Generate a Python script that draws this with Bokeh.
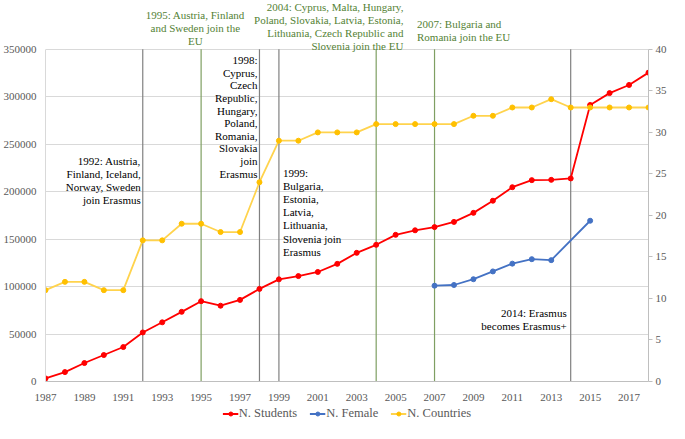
from bokeh.plotting import figure
from bokeh.layouts import column
from bokeh.models import (Range1d, LinearAxis, FixedTicker, Label, Legend,
                          LegendItem, BasicTickFormatter)
from bokeh.embed import file_html
from bokeh.resources import INLINE

years = list(range(1987, 2019))
students = [3244, 9914, 19456, 27906, 36314, 51694, 62362, 73407, 84642, 79874,
            85999, 97601, 107666, 111092, 115432, 123957, 135586, 144037, 154553,
            159324, 162695, 168193, 177705, 190495, 204744, 212208, 212522, 214000,
            291400, 303900, 312500, 325500]
female_years = [2007, 2008, 2009, 2010, 2011, 2012, 2013, 2015]
female = [101000, 101700, 107800, 116000, 124200, 128900, 127900, 169400]
countries = [11, 12, 12, 11, 11, 17, 17, 19, 19, 18, 18, 24, 29, 29, 30, 30, 30,
             31, 31, 31, 31, 31, 32, 32, 33, 33, 34, 33, 33, 33, 33, 33]

erasmus_events = [1992, 1998, 1999, 2014]
eu_events = [1995, 2004, 2007]

left_ticks = [0, 50000, 100000, 150000, 200000, 250000, 300000, 350000]
right_ticks = [0, 5, 10, 15, 20, 25, 30, 35, 40]
x_ticks = list(range(1987, 2018, 2))

LEFT_MAX = 350000
RIGHT_MAX = 40
TOP = 401500  # room above the axes for the EU notes

FONT = "Liberation Serif"
GRAY_TXT = "#595959"
GREEN_TXT = "#548235"
GREEN_LINE = "#7f9f62"
GRAY_LINE = "#808080"

p = figure(width=669, height=403, output_backend="svg", toolbar_location=None,
           x_range=Range1d(1987, 2018), y_range=Range1d(0, TOP),
           min_border_top=0, min_border_right=6, min_border_left=4,
           min_border_bottom=0)
p.extra_y_ranges = {"count": Range1d(0, RIGHT_MAX * TOP / LEFT_MAX)}
p.outline_line_color = None
p.background_fill_color = "white"
p.border_fill_color = "white"

p.xgrid.grid_line_color = None
p.ygrid.grid_line_color = "#d9d9d9"
p.ygrid.ticker = FixedTicker(ticks=left_ticks)

p.xaxis.ticker = FixedTicker(ticks=x_ticks)
p.xaxis.axis_line_color = "#bfbfbf"
p.xaxis.major_tick_line_color = None
p.xaxis.minor_tick_line_color = None
p.xaxis.major_label_text_font = FONT
p.xaxis.major_label_text_font_size = "11px"
p.xaxis.major_label_text_color = GRAY_TXT
p.xaxis.major_label_standoff = 6

p.yaxis.ticker = FixedTicker(ticks=left_ticks)
p.yaxis.bounds = (0, LEFT_MAX)
p.yaxis.formatter = BasicTickFormatter(use_scientific=False)
p.yaxis.axis_line_color = "#d9d9d9"
p.yaxis.major_tick_line_color = None
p.yaxis.minor_tick_line_color = None
p.yaxis.major_label_text_font = FONT
p.yaxis.major_label_text_font_size = "11px"
p.yaxis.major_label_text_color = GRAY_TXT
p.yaxis.major_label_standoff = 3

raxis = LinearAxis(y_range_name="count", ticker=FixedTicker(ticks=right_ticks),
                   bounds=(0, RIGHT_MAX))
raxis.axis_line_color = "#bfbfbf"
raxis.major_tick_line_color = "#bfbfbf"
raxis.major_tick_out = 4
raxis.major_tick_in = 0
raxis.minor_tick_line_color = None
raxis.major_label_text_font = FONT
raxis.major_label_text_font_size = "11px"
raxis.major_label_text_color = GRAY_TXT
raxis.major_label_standoff = 3
p.add_layout(raxis, "right")

p.segment(x0=erasmus_events, y0=[0] * len(erasmus_events), x1=erasmus_events,
          y1=[LEFT_MAX] * len(erasmus_events), line_color=GRAY_LINE, line_width=1.2)
p.segment(x0=eu_events, y0=[0] * len(eu_events), x1=eu_events,
          y1=[LEFT_MAX] * len(eu_events), line_color=GREEN_LINE, line_width=1.2)

p.line(years, students, line_color="#ff0000", line_width=1.8)
p.scatter(years, students, size=5, fill_color="#ff0000", line_color="#ff0000")
p.line(female_years, female, line_color="#4472c4", line_width=1.8)
p.scatter(female_years, female, size=5, fill_color="#4472c4", line_color="#4472c4")
p.line(years, countries, line_color="#ffd34d", line_width=1.8, y_range_name="count")
p.scatter(years, countries, size=5, fill_color="#ffc000", line_color="#ffc000",
          y_range_name="count")

def note(x, y, text, align, baseline, color="black", xo=0, yo=0, lh=1.1):
    p.add_layout(Label(x=x, y=y, text=text, text_align=align, text_baseline=baseline,
                       text_font=FONT, text_font_size="11px", text_color=color,
                       text_line_height=lh, x_offset=xo, y_offset=yo))

note(1992, 238800, "1992: Austria,\nFinland, Iceland,\nNorway, Sweden\njoin Erasmus",
     "right", "top", xo=-2)
note(1998, 345000, "1998:\nCyprus,\nCzech\nRepublic,\nHungary,\nPoland,\nRomania,\nSlovakia\njoin\nErasmus",
     "right", "top", xo=-2, lh=1.05)
note(1999, 226500, "1999:\nBulgaria,\nEstonia,\nLatvia,\nLithuania,\nSlovenia join\nErasmus",
     "left", "top", xo=4)
note(2014, 78600, "2014: Erasmus\nbecomes Erasmus+", "right", "top", xo=-4)
note(1994.7, LEFT_MAX, "1995: Austria, Finland\nand Sweden join the\nEU", "center", "bottom",
     color=GREEN_TXT, yo=2)
note(2005.4, TOP, "2004: Cyprus, Malta, Hungary,\nPoland, Slovakia, Latvia, Estonia,\nLithuania, Czech Republic and\nSlovenia join the EU",
     "right", "top", color=GREEN_TXT, yo=0)
note(2006.1, LEFT_MAX, "2007: Bulgaria and\nRomania join the EU", "left", "bottom",
     color=GREEN_TXT, yo=6)

# legend strip under the chart (key renderers sit outside its visible range)
q = figure(width=669, height=20, output_backend="svg", toolbar_location=None,
           x_range=Range1d(0, 1), y_range=Range1d(0, 1),
           min_border_top=0, min_border_bottom=0, min_border_left=0, min_border_right=0)
q.axis.visible = False
q.grid.grid_line_color = None
q.outline_line_color = None
key_x = [-5, -4]
key_y = [-5, -4]
k1 = q.line(key_x, key_y, line_color="#ff0000", line_width=1.8)
k1m = q.scatter(key_x, key_y, size=5, fill_color="#ff0000", line_color="#ff0000")
k2 = q.line(key_x, key_y, line_color="#4472c4", line_width=1.8)
k2m = q.scatter(key_x, key_y, size=5, fill_color="#4472c4", line_color="#4472c4")
k3 = q.line(key_x, key_y, line_color="#ffd34d", line_width=1.8)
k3m = q.scatter(key_x, key_y, size=5, fill_color="#ffc000", line_color="#ffc000")

legend = Legend(items=[LegendItem(label="N. Students", renderers=[k1, k1m]),
                       LegendItem(label="N. Female", renderers=[k2, k2m]),
                       LegendItem(label="N. Countries", renderers=[k3, k3m])],
                orientation="horizontal", location="center")
legend.label_text_font = FONT
legend.label_text_font_size = "12.5px"
legend.label_text_color = GRAY_TXT
legend.label_height = 14
legend.glyph_width = 16
legend.glyph_height = 10
legend.label_standoff = 1
legend.spacing = 12
legend.padding = 1
legend.margin = 0
legend.border_line_color = None
legend.background_fill_alpha = 0
q.add_layout(legend)

layout = column(p, q, spacing=0)
open("out.html", "w").write(file_html(layout, INLINE))
